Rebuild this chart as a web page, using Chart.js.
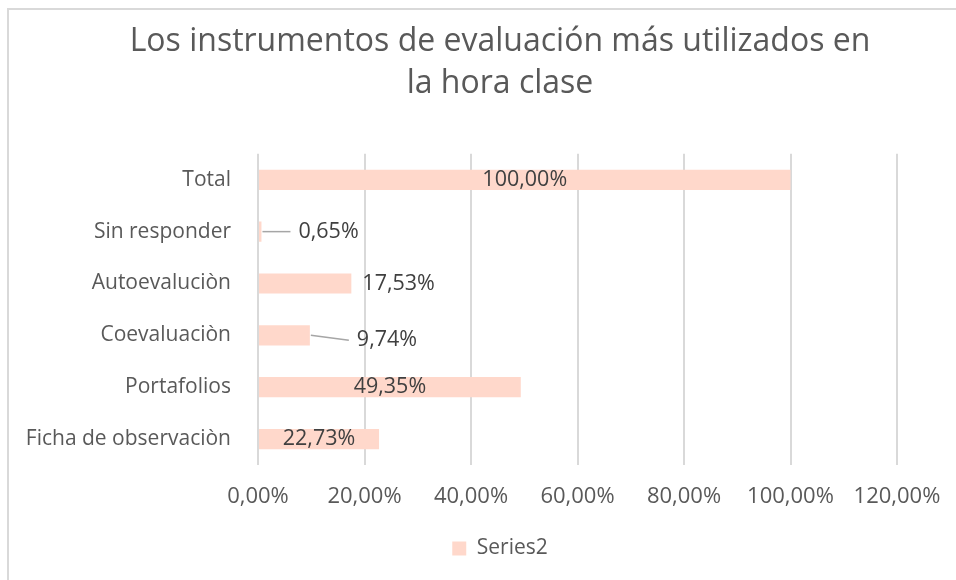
<!DOCTYPE html>
<html>
<head>
<meta charset="utf-8">
<script src="https://cdn.jsdelivr.net/npm/chart.js@4.4.1/dist/chart.umd.min.js"></script>
<style>
  html, body { margin: 0; padding: 0; background: #fff; }
  #frame {
    position: absolute; left: 7px; top: 8px; width: 1000px; height: 1000px;
    border-left: 2px solid #d9d9d9; border-top: 2px solid #d9d9d9;
  }
  #wrap { position: absolute; left: 0; top: 0; width: 956px; height: 580px; }
</style>
</head>
<body>
<div id="frame"></div>
<div id="wrap"><canvas id="chart" width="956" height="580"></canvas></div>
<script>
const categories = ['Total', 'Sin responder', 'Autoevaluciòn', 'Coevaluaciòn', 'Portafolios', 'Ficha de observaciòn'];
const series2 = [100.00, 0.65, 17.53, 9.74, 49.35, 22.73];
const xTicks = [0, 20, 40, 60, 80, 100, 120];

const textColor = '#595959';
const fontFamily = "'Open Sans', 'Liberation Sans', sans-serif";

function fmtPct(v) {
  return v.toFixed(2).replace('.', ',') + '%';
}

// Excel-ish "best fit" labels: centered when the bar is wide, outside otherwise,
// with a leader line for the tiniest bars
const barLabels = {
  id: 'barLabels',
  afterDatasetsDraw(chart) {
    const ctx = chart.ctx;
    const meta = chart.getDatasetMeta(0);
    const data = chart.data.datasets[0].data;
    ctx.save();
    ctx.font = '21.5px ' + fontFamily;
    ctx.fillStyle = '#404040';
    ctx.textBaseline = 'middle';
    meta.data.forEach((bar, i) => {
      const v = data[i];
      const text = fmtPct(v);
      if (v >= 20) {
        ctx.textAlign = 'center';
        ctx.fillText(text, (bar.x + bar.base) / 2, bar.y);
      } else if (v >= 15) {
        ctx.textAlign = 'left';
        ctx.fillText(text, bar.x + 11, bar.y);
      } else {
        const gap = v < 5 ? 37 : 47;
        const drop = v < 5 ? 0 : 5;
        ctx.strokeStyle = '#a6a6a6';
        ctx.lineWidth = 1.5;
        ctx.beginPath();
        ctx.moveTo(bar.x + 1, bar.y);
        ctx.lineTo(bar.x + gap - 8, bar.y + drop);
        ctx.stroke();
        ctx.textAlign = 'left';
        ctx.fillText(text, bar.x + gap, bar.y + drop);
      }
    });
    ctx.restore();
  }
};

// let long category names run past the left padding instead of being clipped
const unclipY = {
  id: 'unclipY',
  afterLayout(chart) {
    chart.scales.y.left = 0;
  }
};

new Chart(document.getElementById('chart'), {
  type: 'bar',
  data: {
    labels: categories,
    datasets: [{
      label: 'Series2',
      data: series2,
      backgroundColor: '#ffd8cb',
      borderWidth: 0,
      categoryPercentage: 1,
      barPercentage: 0.39
    }]
  },
  options: {
    indexAxis: 'y',
    responsive: false,
    animation: false,
    layout: { padding: { left: 103, right: 59, top: 21, bottom: 11 } },
    plugins: {
      title: {
        display: true,
        text: ['Los instrumentos de evaluación más utilizados en', 'la hora clase'],
        color: textColor,
        font: { family: fontFamily, size: 32, weight: 'normal', lineHeight: 1.31 },
        padding: { top: 0, bottom: 49 }
      },
      legend: {
        position: 'bottom',
        labels: {
          color: textColor,
          font: { family: fontFamily, size: 21 },
          boxWidth: 14,
          boxHeight: 14,
          padding: 10
        }
      },
      tooltip: { enabled: false }
    },
    scales: {
      x: {
        min: 0,
        max: 120,
        afterBuildTicks(scale) {
          scale.ticks = xTicks.map(v => ({ value: v }));
        },
        afterFit(scale) {
          scale.height = 63;
          scale.paddingLeft = 0;
          scale.paddingRight = 0;
        },
        ticks: {
          color: textColor,
          font: { family: fontFamily, size: 22 },
          padding: 19,
          maxRotation: 0,
          callback: v => fmtPct(v)
        },
        grid: { color: '#d9d9d9', lineWidth: 2, drawTicks: false },
        border: { display: false }
      },
      y: {
        afterFit(scale) { scale.width = 155; },
        ticks: {
          color: textColor,
          font: { family: fontFamily, size: 21 },
          padding: 27
        },
        grid: { display: false, drawTicks: false },
        border: { display: false }
      }
    }
  },
  plugins: [barLabels, unclipY]
});
</script>
</body>
</html>
